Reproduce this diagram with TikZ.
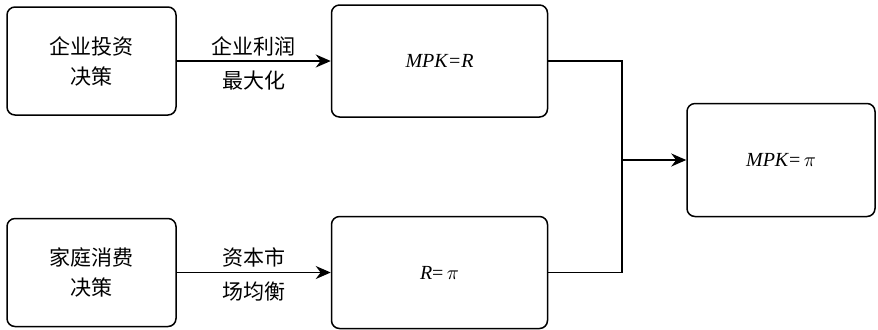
\documentclass[tikz,border=0pt]{standalone}
\usepackage{fontspec}
\setmainfont{Liberation Serif}
\newfontfamily\cjk{Noto Sans CJK SC}
\usetikzlibrary{arrows.meta, positioning}

\begin{document}
\begin{tikzpicture}[
      x=0.5pt, y=-0.5pt,
      node distance=77pt,
      block/.style={rectangle, draw, line width=0.75pt, rounded corners=4pt, align=center, font=\cjk\fontsize{10.5}{15}\selectfont},
      decision/.style={block, minimum width=84.5pt, minimum height=54pt},
      cond/.style={block, minimum width=108pt, minimum height=56pt, font=\fontsize{10}{12}\selectfont},
      result/.style={block, minimum width=94pt, minimum height=56.5pt, font=\fontsize{10}{12}\selectfont},
      note/.style={font=\cjk\fontsize{10.5}{15}\selectfont, align=center, inner sep=1pt},
      link/.style={line width=0.75pt},
      arrow/.style={line width=0.8pt, -{Stealth[length=7.5pt, width=6.5pt]}}
    ]
    \useasboundingbox (0,0) rectangle (878,329);
    \node [decision] at (91.5,61) (firm) {企业投资\\决策};
    \node [decision, below=51pt of firm] (house) {家庭消费\\决策};
    \node [cond, right=of firm] (mpkr) {\textit{MPK=R}};
    \node [cond, right=of house] (rpi) {\textit{R}=\,$\pi$};
    \node [result] at (781,160) (mpkpi) {\textit{MPK}=\,$\pi$};
    \coordinate (join) at (622,160);

    \draw [arrow] (firm) -- node[note, above=1pt] {企业利润} node[note, below=3.5pt] {最大化} (mpkr);
    \draw [arrow] (house) -- node[note, above=1pt] {资本市} node[note, below=3.5pt] {场均衡} (rpi);
    \draw [link] (mpkr.east) -| (join);
    \draw [link] (rpi.east) -| (join);
    \draw [arrow] (join) -- (mpkpi);
  \end{tikzpicture}
\end{document}
